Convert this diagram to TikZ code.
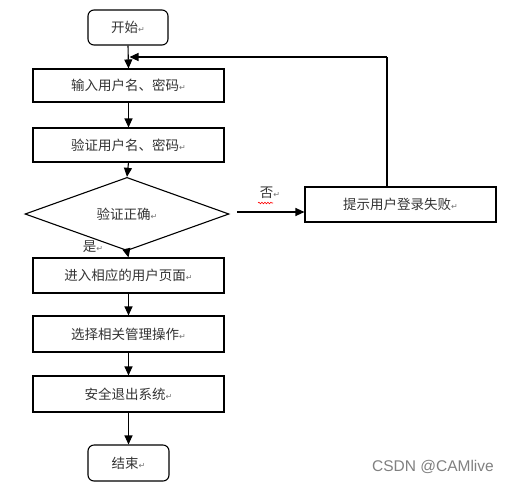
\documentclass[tikz,border=0pt]{standalone}
\usepackage{fontspec}
\newfontfamily\cjk{Noto Sans CJK SC}
\newfontfamily\dv{DejaVu Sans}
\newfontfamily\wm{Liberation Sans}
\usetikzlibrary{shapes.geometric,arrows.meta,decorations.pathmorphing}
\newcommand{\parmk}{{\dv\color{black!55}\fontsize{8}{8}\selectfont ↵}}
\begin{document}
\begin{tikzpicture}[x=1pt,y=-1pt,
  every node/.style={font=\cjk\fontsize{13.5}{15}\selectfont, text=black!80},
  procbox/.style={draw, line width=1.1pt, minimum width=191pt, inner sep=0pt},
  termbox/.style={draw, line width=1.1pt, rounded corners=6pt, minimum width=80pt, minimum height=35pt, inner sep=0pt},
  flow/.style={line width=1.1pt, -{Triangle[length=9pt,width=8pt]}},
  conn/.style={line width=1.1pt}]
\useasboundingbox (0,0) rectangle (510,485);
\node[termbox] (start) at (128,27.5) {开始\parmk};
\node[procbox, minimum height=33pt] (b1) at (128.5,85.5) {输入用户名、密码\parmk};
\node[procbox, minimum height=34pt] (b2) at (128.5,145) {验证用户名、密码\parmk};
\node[draw, diamond, line width=1.1pt, minimum width=204pt, minimum height=62pt, inner sep=0pt] (dia) at (127,214) {验证正确\parmk};
\node[procbox, minimum height=35pt] (b3) at (128.5,275.5) {进入相应的用户页面\parmk};
\node[procbox, minimum height=36pt] (b4) at (128.5,334) {选择相关管理操作\parmk};
\node[procbox, minimum height=36pt] (b5) at (128.5,394) {安全退出系统\parmk};
\node[termbox, minimum width=81pt, minimum height=36pt] (end) at (128.5,463) {结束\parmk};
\node[procbox, minimum height=35pt] (fail) at (400.5,204.5) {提示用户登录失败\parmk};
\node (yes) at (93,247) {是\parmk};
\node (no) at (270,193) {否\parmk};
\node[font=\wm\fontsize{15.5}{16}\selectfont, text=black!50] (wmk) at (433,467) {CSDN @CAMlive};
\draw[red, line width=0.6pt, decorate, decoration={snake, amplitude=0.8pt, segment length=3pt}] (258,203) -- (273,203);
\coordinate (n0) at (237,212);
\coordinate (up) at (387,57);
\draw[flow] (start.south) -- (b1.north);
\draw[flow] (b1.south) -- (b2.north);
\draw[flow] (b2.south) -- (dia.north);
\draw[flow] (dia.south) -- (b3.north);
\draw[flow] (b3.south) -- (b4.north);
\draw[flow] (b4.south) -- (b5.north);
\draw[flow] (b5.south) -- (end.north);
\draw[flow] (n0) -- (n0 -| fail.west);
\draw[conn] (up |- fail.north) -- (up);
\draw[flow] (up) -- ([xshift=1.5pt]start.south |- up);
\end{tikzpicture}
\end{document}
